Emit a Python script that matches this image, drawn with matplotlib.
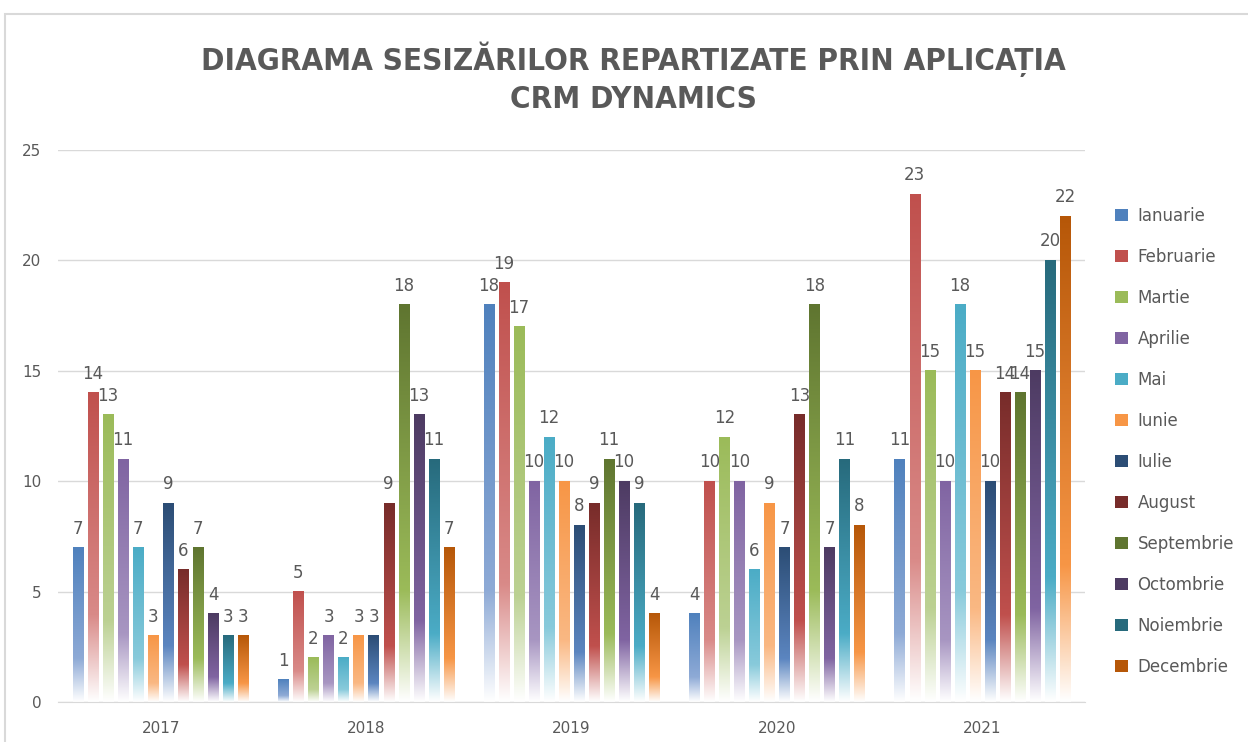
import numpy as np
import matplotlib.pyplot as plt
from matplotlib.patches import Rectangle
from matplotlib.colors import to_rgb

years = ['2017', '2018', '2019', '2020', '2021']
months = ['Ianuarie', 'Februarie', 'Martie', 'Aprilie', 'Mai', 'Iunie',
          'Iulie', 'August', 'Septembrie', 'Octombrie', 'Noiembrie', 'Decembrie']

v2017 = [7, 14, 13, 11, 7, 3, 9, 6, 7, 4, 3, 3]
v2018 = [1, 5, 2, 3, 2, 3, 3, 9, 18, 13, 11, 7]
v2019 = [18, 19, 17, 10, 12, 10, 8, 9, 11, 10, 9, 4]
v2020 = [4, 10, 12, 10, 6, 9, 7, 13, 18, 7, 11, 8]
v2021 = [11, 23, 15, 10, 18, 15, 10, 14, 14, 15, 20, 22]
values = [v2017, v2018, v2019, v2020, v2021]

# top colour / middle colour of the excel style gradient
top_colors = ['#4F81BD', '#C0504D', '#9BBB59', '#8064A2', '#4BACC6', '#F79646',
              '#2C4D75', '#772C2A', '#5F7530', '#4D3B62', '#276A7C', '#B65708']
mid_colors = ['#8EAAD6', '#D98A88', '#BCD193', '#A896C2', '#88CADB', '#FAB883',
              '#5B85C0', '#C0504D', '#9BBB59', '#8064A2', '#4BACC6', '#F79646']

GRAY = '#595959'

fig = plt.figure(figsize=(12.48, 7.42), dpi=100)
ax = fig.add_axes([58 / 1248, 1 - 702 / 742, 1027 / 1248, 552 / 742])

# chart border (only top and left visible)
fig.patches.append(Rectangle((5 / 1248, -0.1), 1.2, 1.1 - 14 / 742,
                             transform=fig.transFigure, fill=False,
                             edgecolor='#D9D9D9', linewidth=1.5))

step = 0.0732
width = 0.05
N = 200


def gradient(c_top, c_mid):
    t = np.linspace(0, 1, N)  # 0 = top, 1 = bottom
    top = np.array(to_rgb(c_top))
    mid = np.array(to_rgb(c_mid))
    white = np.array([1.0, 1.0, 1.0])
    img = np.zeros((N, 1, 3))
    for k, tt in enumerate(t):
        if tt < 0.72:
            f = tt / 0.72
            c = top * (1 - f) + mid * f
        else:
            f = (tt - 0.72) / 0.28
            c = mid * (1 - f) + white * f
        img[k, 0] = c
    return img


for i, vals in enumerate(values):
    for j, v in enumerate(vals):
        x = i + (j - 5.5) * step
        ax.imshow(gradient(top_colors[j], mid_colors[j]), aspect='auto',
                  extent=(x - width / 2, x + width / 2, 0, v), zorder=2,
                  interpolation='bilinear')
        ax.text(x, v + 0.45, str(v), ha='center', va='bottom',
                fontsize=12, color=GRAY)

ax.set_xlim(-0.5, 4.5)
ax.set_ylim(0, 25)
ax.set_yticks(range(0, 26, 5))
ax.set_xticks(range(len(years)))
ax.set_xticklabels(years)
ax.tick_params(axis='both', length=0, labelsize=11, labelcolor=GRAY)
ax.tick_params(axis='y', pad=12)
ax.tick_params(axis='x', pad=14)
ax.grid(axis='y', color='#D9D9D9', linewidth=1)
ax.set_axisbelow(True)
for s in ['top', 'right', 'left']:
    ax.spines[s].set_visible(False)
ax.spines['bottom'].set_color('#D9D9D9')

handles = [Rectangle((0, 0), 1, 1, facecolor=c) for c in top_colors]
fig.legend(handles, months, loc='upper left', bbox_to_anchor=(1100 / 1248, 1 - 192 / 742),
           frameon=False, fontsize=12, labelcolor=GRAY, handlelength=0.75,
           handleheight=0.75, labelspacing=1.38, handletextpad=0.6)

fig.text(633 / 1248, 1 - 78 / 742, 'DIAGRAMA SESIZĂRILOR REPARTIZATE PRIN APLICAȚIA\nCRM DYNAMICS',
         ha='center', va='center', fontsize=22.5, fontweight='bold', color=GRAY,
         family='DejaVu Sans', stretch='condensed', linespacing=1.35)

fig.savefig('out.png', dpi=100)
